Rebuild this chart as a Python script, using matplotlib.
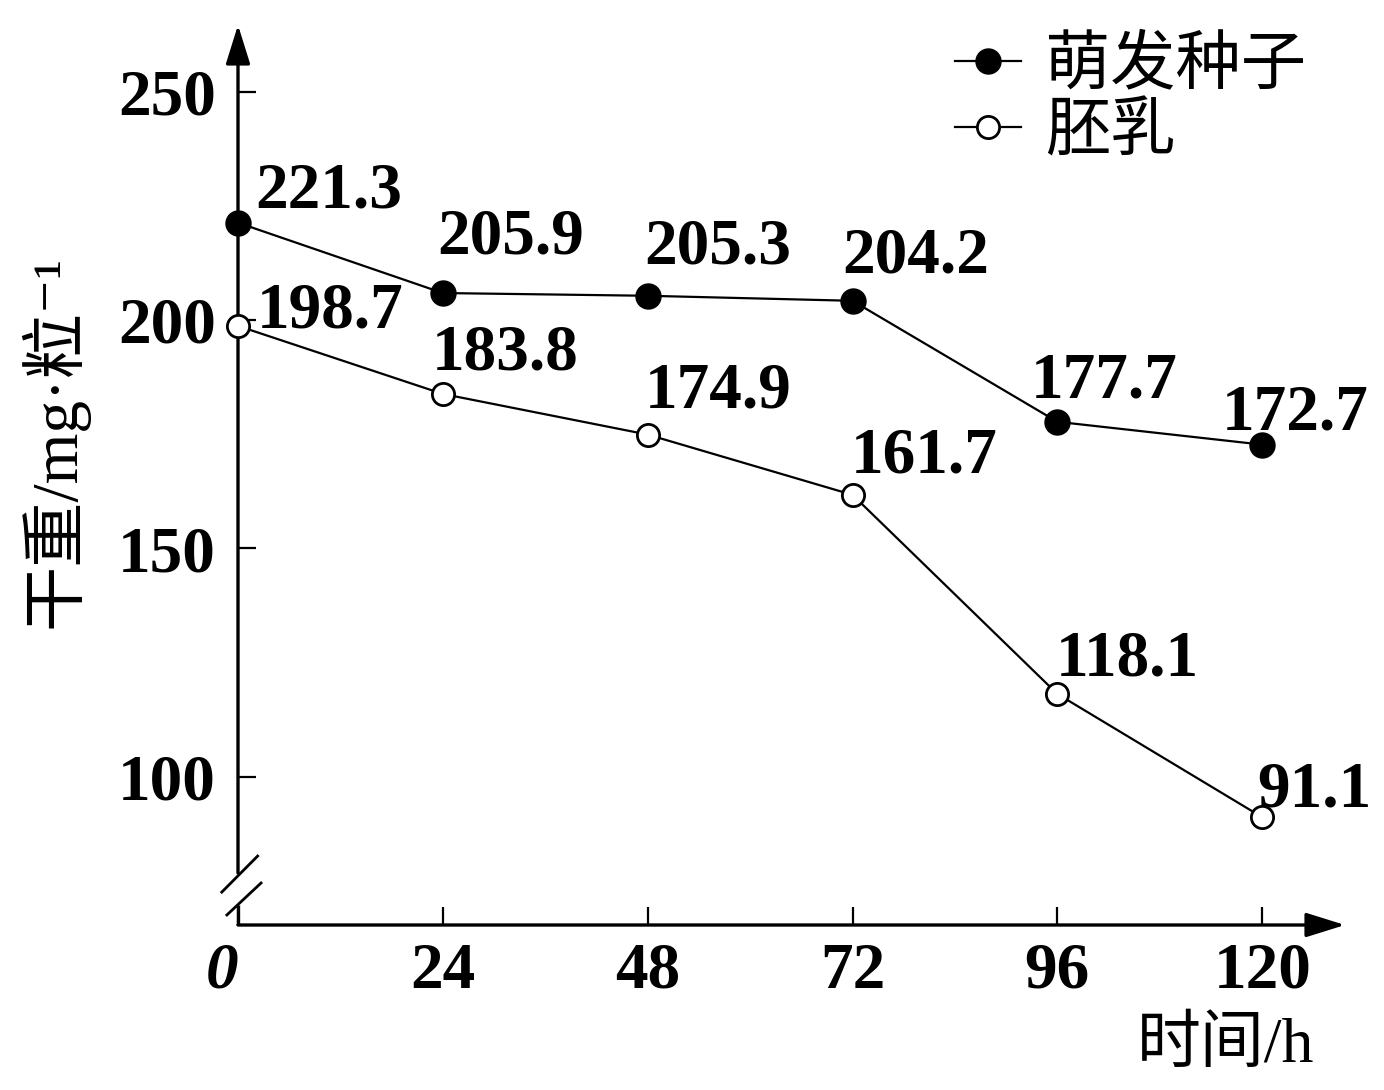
import matplotlib
matplotlib.use("Agg")
import matplotlib.pyplot as plt

plt.rcParams['font.family'] = ['Liberation Serif', 'Noto Sans CJK SC', 'DejaVu Serif']
plt.rcParams['font.weight'] = 'bold'

# data
hours = [0, 24, 48, 72, 96, 120]
seed = [221.3, 205.9, 205.3, 204.2, 177.7, 172.7]       # 萌发种子
endosperm = [198.7, 183.8, 174.9, 161.7, 118.1, 91.1]   # 胚乳
xtick_labels = ['0', '24', '48', '72', '96', '120']
yticks = [100, 150, 200, 250]

# label offsets (pixels) for the value annotations
seed_off = [(17, 15), (-6, 40), (-3, 32), (-10, 28), (-27, 24), (-40, 15)]
endo_off = [(19, -2), (-11, 24), (-3, 27), (-2, 22), (-2, 18), (-5, 11)]

fig = plt.figure(figsize=(13.84, 10.9), dpi=100)
ax = fig.add_axes([238/1384, 165/1090, 1107/1384, 900/1090])
xmin, xmax = 0, 129.7
ymin, ymax = 67.5, 264.6
ax.set_xlim(xmin, xmax)
ax.set_ylim(ymin, ymax)

l1, = ax.plot(hours, seed, '-o', color='k', lw=1.6, ms=18, mfc='k', mec='k',
              clip_on=False, zorder=5, label='萌发种子')
l2, = ax.plot(hours, endosperm, '-o', color='k', lw=1.6, ms=16, mfc='white', mec='k',
              mew=2, clip_on=False, zorder=5, label='胚乳')

for x, y, (dx, dy) in zip(hours, seed, seed_off):
    ax.annotate(f'{y:.1f}', (x, y), xytext=(dx, dy), textcoords='offset pixels',
                fontsize=47, ha='left', va='baseline', annotation_clip=False)
for x, y, (dx, dy) in zip(hours, endosperm, endo_off):
    ax.annotate(f'{y:.1f}', (x, y), xytext=(dx, dy), textcoords='offset pixels',
                fontsize=47, ha='left', va='baseline', annotation_clip=False)

# axes drawn by hand: arrows and a break on the y axis
for s in ax.spines.values():
    s.set_visible(False)
arrow = dict(arrowstyle='-|>,head_length=0.8,head_width=0.25', lw=2.4, color='k',
             mutation_scale=30, shrinkA=0, shrinkB=0)
ax.annotate('', xy=(xmax, ymin), xytext=(0, ymin), arrowprops=arrow, annotation_clip=False)
ax.annotate('', xy=(0, ymax), xytext=(0, 78.9), arrowprops=arrow, annotation_clip=False)
ax.plot([0, 0], [ymin, 71.9], color='k', lw=2.4, clip_on=False, solid_capstyle='butt')
ax.plot([-1.9, 2.3], [74.7, 82.6], color='k', lw=2, clip_on=False)
ax.plot([-1.3, 2.7], [69.7, 76.7], color='k', lw=2, clip_on=False)

ax.set_xticks(hours)
ax.set_xticklabels(xtick_labels)
ax.set_yticks(yticks)
ax.tick_params(direction='in', length=13, width=1.6, labelsize=47)
ax.tick_params(axis='x', pad=12)
ax.tick_params(axis='y', pad=16)
lab0 = ax.get_xticklabels()[0]
lab0.set_style('italic')
lab0.set_horizontalalignment('right')

ax.set_ylabel('干重/mg·粒⁻¹', fontsize=47, fontweight='normal')
ax.yaxis.set_label_coords(-0.135, 0.537)
ax.set_xlabel('时间/h', fontsize=46, fontweight='normal')
ax.xaxis.set_label_coords(0.892, -0.103)

ax.legend(handles=[l1, l2], loc='upper left', bbox_to_anchor=(0.648, 0.987),
          frameon=False, prop={'size': 47, 'weight': 'normal'}, handlelength=1.0,
          handletextpad=0.38, labelspacing=0.1, borderpad=0, borderaxespad=0,
          markerscale=1.0)

fig.savefig('out.png', dpi=100)
